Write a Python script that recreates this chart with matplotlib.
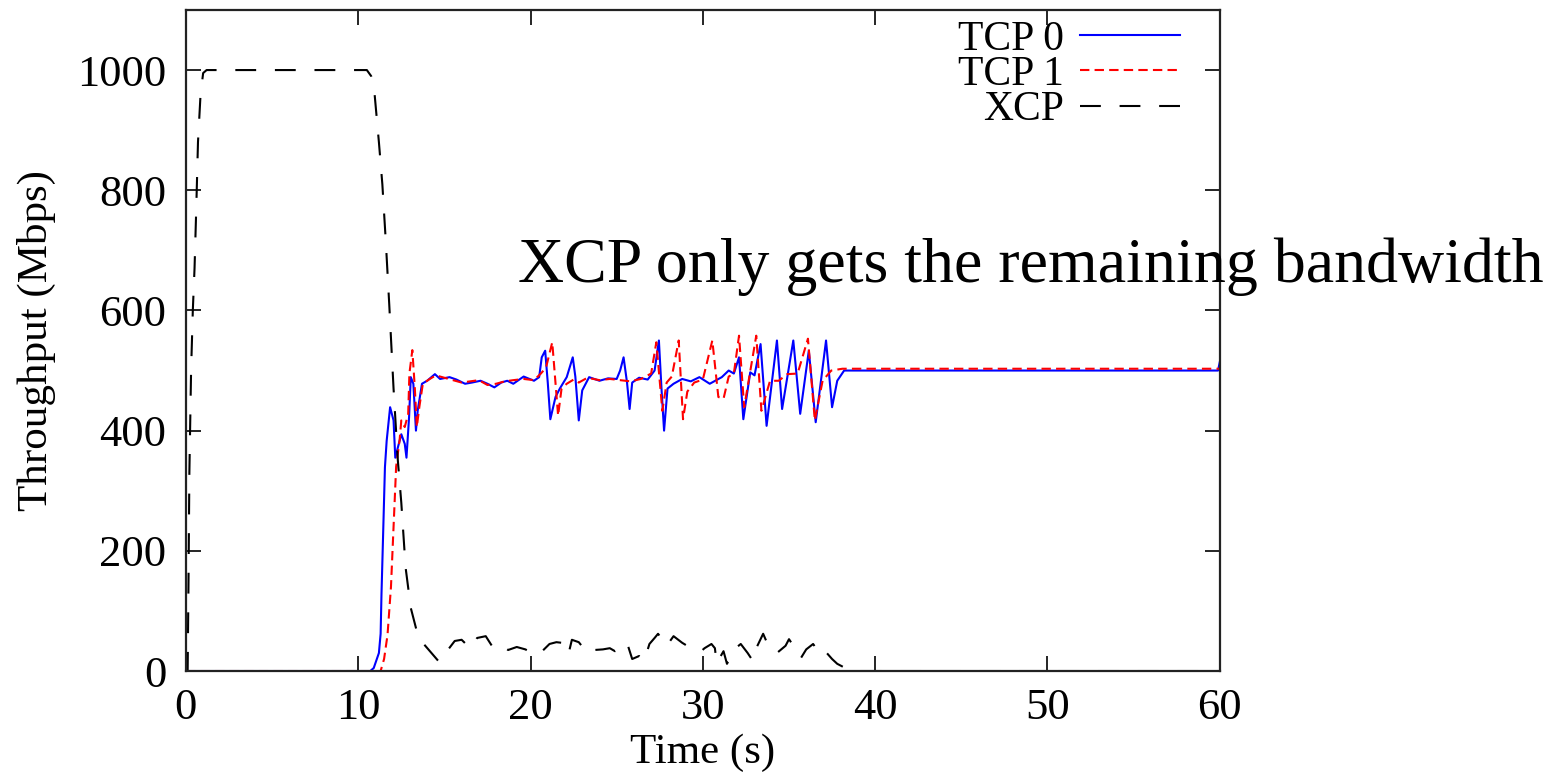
import matplotlib
matplotlib.use("Agg")
import matplotlib.pyplot as plt

plt.rcParams['font.family'] = ['Liberation Serif', 'DejaVu Serif']

# XCP flow (black, long dashes)
xcp_t = [0, 0.1, 0.15, 0.2, 0.3, 0.4, 0.5, 0.6, 0.7, 0.85, 1.0, 1.2,
         10.5, 10.75, 10.95, 11.2, 11.4, 11.6, 11.8, 12.05, 12.3, 12.5, 12.75, 13.05, 13.5, 14.1, 14.7,
         15.2, 15.6, 16.0, 16.5, 16.9, 17.4, 17.8, 18.2, 18.7, 19.2, 19.7, 20.1, 20.5, 21.1, 21.5,
         21.8, 22.2, 22.4, 22.8, 23.3, 23.7, 24.2, 24.6, 24.9, 25.3, 25.6, 25.9, 26.3, 26.6, 26.9,
         27.2, 27.4, 27.9, 28.3, 28.8, 29.2, 29.6, 29.9, 30.1, 30.5, 30.7, 30.8, 31.2, 31.4, 31.9,
         32.2, 32.6, 32.9, 33.1, 33.5, 33.8, 34.3, 34.8, 35.0, 35.3, 35.7, 36.0, 36.4, 36.8, 37.1,
         37.5, 37.8, 38.4, 38.8, 60]
xcp_v = [0, 0, 150, 330, 500, 600, 670, 770, 880, 960, 995, 1000,
         1000, 990, 960, 880, 810, 715, 610, 470, 350, 280, 172, 105, 55, 35, 15,
         35, 50, 52, 38, 55, 58, 40, 45, 35, 40, 36, 30, 28, 45, 48,
         47, 28, 52, 48, 30, 35, 36, 38, 33, 40, 47, 20, 25, 17, 45,
         55, 62, 42, 58, 47, 40, 38, 33, 38, 45, 38, 13, 33, 12, 38,
         45, 30, 17, 38, 62, 42, 30, 42, 53, 40, 22, 36, 45, 28, 33,
         20, 12, 3, 0, 0]

# TCP 0 (blue, solid)
tcp0_t = [0, 10.7, 10.9, 11.2, 11.3, 11.35, 11.45, 11.55, 11.65, 11.85, 12.05, 12.15, 12.3, 12.5,
          12.7, 12.8, 12.95, 13.05, 13.2, 13.35, 13.45, 13.7, 14.0, 14.45, 14.75, 15.3, 15.7, 16.2,
          16.6, 17.1, 17.5, 17.9, 18.3, 18.65, 19.0, 19.6, 20.2, 20.5, 20.65, 20.85, 21.0, 21.15,
          21.45, 21.7, 22.1, 22.45, 22.6, 22.8, 23.0, 23.4, 24.0, 24.5, 25.0, 25.2, 25.4, 25.6,
          25.75, 25.9, 26.3, 26.8, 27.2, 27.45, 27.6, 27.75, 27.95, 28.3, 28.8, 29.3, 29.8, 30.4,
          31.1, 31.5, 31.8, 32.1, 32.35, 32.75, 33.0, 33.35, 33.7, 34.3, 34.6, 35.25, 35.65, 36.15,
          36.55, 37.15, 37.5, 37.8, 38.2, 59.9, 60]
tcp0_v = [0, 0, 5, 30, 62, 128, 233, 339, 383, 439, 417, 355, 372, 394,
          378, 355, 422, 489, 478, 400, 433, 478, 483, 494, 486, 489, 485, 478,
          480, 483, 478, 472, 480, 483, 478, 490, 483, 489, 522, 533, 480, 419,
          456, 470, 489, 522, 490, 417, 467, 489, 483, 487, 486, 500, 522, 480,
          436, 480, 488, 485, 500, 550, 470, 400, 470, 478, 486, 482, 489, 478,
          489, 500, 495, 522, 419, 497, 492, 544, 408, 550, 436, 550, 428, 533,
          414, 550, 439, 483, 500, 500, 514]

# TCP 1 (red, short dashes)
tcp1_t = [0, 11.3, 11.5, 11.7, 11.9, 12.1, 12.2, 12.4, 12.5, 12.7, 12.9, 12.97, 13.14, 13.28,
          13.4, 13.55, 13.75, 14.1, 14.5, 15.0, 15.5, 16.0, 16.5, 17.0, 17.5, 18.0, 18.5, 19.0,
          19.6, 20.2, 20.6, 20.9, 21.26, 21.6, 21.8, 22.1, 22.5, 22.8, 23.3, 24.0, 24.6, 25.2,
          25.8, 26.4, 27.0, 27.3, 27.65, 27.9, 28.2, 28.6, 28.85, 29.1, 29.5, 30.0, 30.55, 30.9,
          31.2, 31.5, 31.8, 32.1, 32.4, 32.7, 33.1, 33.4, 33.9, 34.4, 34.9, 35.5, 36.1, 36.5,
          36.95, 37.45, 38.1, 60]
tcp1_v = [0, 0, 20, 60, 140, 273, 340, 384, 417, 406, 428, 495, 534, 473,
          406, 440, 478, 485, 492, 488, 484, 480, 482, 484, 476, 478, 482, 484,
          486, 484, 495, 505, 547, 425, 470, 478, 485, 480, 488, 484, 486, 484,
          482, 486, 495, 547, 433, 480, 490, 550, 419, 465, 480, 485, 550, 456,
          453, 490, 495, 558, 439, 490, 558, 433, 483, 483, 494, 495, 553, 417,
          483, 500, 503, 503]

fig = plt.figure(figsize=(15.65, 7.78), dpi=100)
ax = fig.add_axes([0.1188, 0.1375, 0.6606, 0.8497])

ax.plot(tcp0_t, tcp0_v, color='#0000ff', lw=1.5, label='TCP 0')
ax.plot(tcp1_t, tcp1_v, color='#ff0000', lw=1.5, dashes=(4.5, 2.5), label='TCP 1')
ax.plot(xcp_t, xcp_v, color='black', lw=1.5, dashes=(10, 9), label='XCP')

ax.set_xlim(0, 60)
ax.set_ylim(0, 1100)
ax.set_xticks([0, 10, 20, 30, 40, 50, 60])
ax.set_yticks([0, 200, 400, 600, 800, 1000])
ax.tick_params(direction='in', length=10.5, width=1.2, labelsize=32,
               top=True, right=True, colors='black')
ax.tick_params(axis='x', pad=12)
ax.tick_params(axis='y', pad=14)
for s in ax.spines.values():
    s.set_linewidth(1.6)
    s.set_color('#222222')

ax.set_xlabel('Time (s)', fontsize=31, labelpad=4)
ax.set_ylabel('Throughput (Mbps)', fontsize=31, labelpad=15)

ax.legend(loc='upper right', bbox_to_anchor=(0.972, 1.0), frameon=False, fontsize=30,
          markerfirst=False, handlelength=2.4, handletextpad=0.4, labelspacing=-0.08,
          borderpad=0.25, borderaxespad=0)

ax.text(19.25, 647, 'XCP only gets the remaining bandwidth', fontsize=46,
        va='baseline', ha='left', clip_on=False)

fig.savefig('out.png', dpi=100)
